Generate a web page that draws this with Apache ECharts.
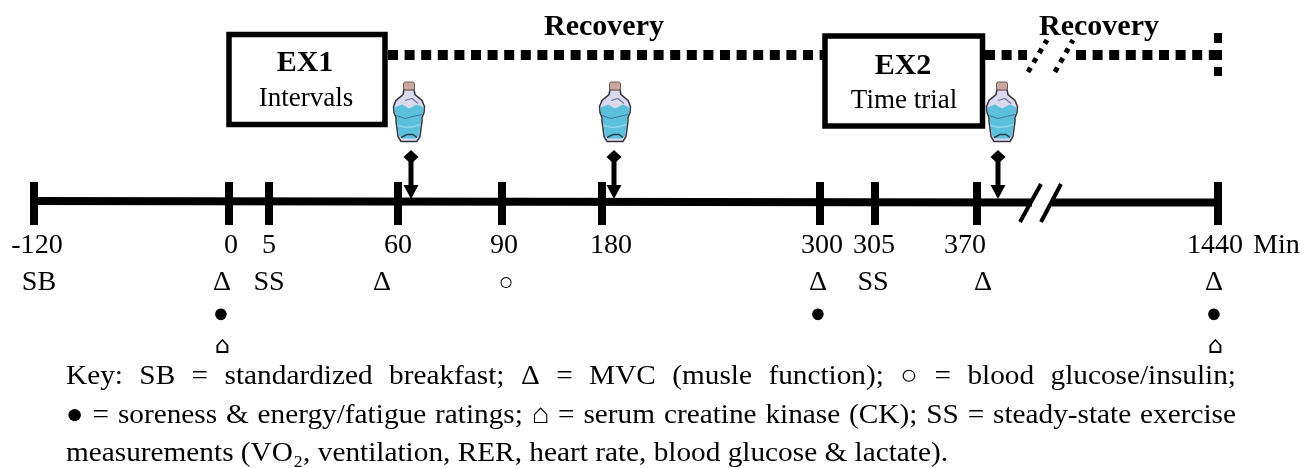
<!DOCTYPE html>
<html>
<head>
<meta charset="utf-8">
<style>
  html, body { margin: 0; padding: 0; background: #fff; }
  #main { width: 1305px; height: 468px; }
</style>
<script src="https://cdn.jsdelivr.net/npm/echarts@6/dist/echarts.min.js"></script>
</head>
<body>
<div id="main"></div>
<script>
// study timeline (minutes)
const minutes = [-120, 0, 5, 60, 90, 180, 300, 305, 370, 1440];
const timeUnit = 'Min';
const breakfast = [-120];
const mvc = [0, 60, 300, 370, 1440];
const steadyState = [5, 305];
const glucose = [90];
const ratings = [0, 300, 1440];
const creatine = [0, 1440];
const drinks = [60, 180, 370];
const exercises = [['EX1', 'Intervals'], ['EX2', 'Time trial']];
const recoveryLabel = 'Recovery';
const keyLines = [
  'Key: SB = standardized breakfast; Δ = MVC (musle function); ○ = blood glucose/insulin;',
  '● = soreness & energy/fatigue ratings; ⌂ = serum creatine kinase (CK); SS = steady-state exercise',
  'measurements (VO₂, ventilation, RER, heart rate, blood glucose & lactate).'
];

// the time axis of the schematic is not to scale, so each minute has its own place
const tickX = { '-120': 34, 0: 229, 5: 269, 60: 398, 90: 502, 180: 602, 300: 820, 305: 875, 370: 977, 1440: 1218 };
const labelX = { '-120': 37, 0: 231, 5: 269, 60: 398, 90: 504, 180: 611, 300: 822, 305: 874, 370: 965, 1440: 1215 };
const mvcX = { 0: 222, 60: 382, 300: 818, 370: 983, 1440: 1214 };
const dropX = { 0: 221, 300: 818, 1440: 1214 };
const drinkX = { 60: 409, 180: 615, 370: 1002 };
const arrowX = { 60: 411, 180: 614, 370: 998 };
const SX = 1.04; // reference is stretched sideways a little
const serif = '"Liberation Serif", "Times New Roman", serif';
const dash = [10, 6.6];

const texts = [];
function addText(x, y, text, size, opts) {
  const o = opts || {};
  texts.push({ x, y, text, size, weight: o.weight || 'normal', align: o.align || 'left', font: o.font || serif, sx: o.sx || SX });
}

minutes.forEach(m => addText(labelX[m], 244, String(m), 27, { align: 'center' }));
addText(1253, 244, timeUnit, 27);
breakfast.forEach(m => addText(39, 281, 'SB', 27, { align: 'center' }));
steadyState.forEach(m => addText(m === 5 ? 269 : 873, 281, 'SS', 27, { align: 'center' }));
mvc.forEach(m => addText(mvcX[m], 281, 'Δ', 27, { align: 'center' }));
glucose.forEach(m => addText(506, 282, '○', 25, { align: 'center', sx: 1 }));
ratings.forEach(m => addText(dropX[m], 313, '●', 27, { align: 'center', sx: 1 }));
creatine.forEach(m => addText(dropX[m] + 1, 345, '⌂', 24, { align: 'center', sx: 1, font: '"DejaVu Sans", sans-serif' }));

addText(305, 62, exercises[0][0], 30, { weight: 'bold', align: 'center', sx: 1 });
addText(306, 97, exercises[0][1], 27, { align: 'center', sx: 1 });
addText(903, 65, exercises[1][0], 30, { weight: 'bold', align: 'center', sx: 1 });
addText(904, 99, exercises[1][1], 27, { align: 'center', sx: 1 });
addText(604, 26, recoveryLabel, 30, { weight: 'bold', align: 'center', sx: 1 });
addText(1099, 26, recoveryLabel, 30, { weight: 'bold', align: 'center', sx: 1 });

// spread the words of the first two key lines out to the full text width
const measure = document.createElement('canvas').getContext('2d');
const KEY_SIZE = 28, KEY_SX = 1.046, KEY_LEFT = 66, KEY_RIGHT = 1236, KEY_Y = [375, 414, 452];
keyLines.forEach((line, i) => {
  if (i === 2) {
    addText(KEY_LEFT, KEY_Y[i], line, KEY_SIZE, { sx: KEY_SX });
    return;
  }
  measure.font = KEY_SIZE + 'px ' + serif;
  const words = line.split(' ');
  const widths = words.map(w => measure.measureText(w).width * KEY_SX);
  const total = widths.reduce((a, b) => a + b, 0);
  const gap = (KEY_RIGHT - KEY_LEFT - total) / (words.length - 1);
  let x = KEY_LEFT;
  words.forEach((w, j) => {
    addText(x, KEY_Y[i], w, KEY_SIZE, { sx: KEY_SX });
    x += widths[j] + gap;
  });
});

function lineSeries(points, width, type) {
  return {
    type: 'line', data: points, symbol: 'none', silent: true, animation: false,
    lineStyle: { color: '#000', width: width, type: type || 'solid', cap: 'butt' }
  };
}

const boxes = [[229, 34.5, 385, 124.5], [825, 36, 982.5, 126]];

function renderBox(params, api) {
  const b = boxes[params.dataIndex];
  const a = api.coord([b[0], b[1]]), c = api.coord([b[2], b[3]]);
  return {
    type: 'rect',
    shape: { x: a[0], y: a[1], width: c[0] - a[0], height: c[1] - a[1] },
    style: { fill: '#fff', stroke: '#000', lineWidth: 5.5 }
  };
}

function renderTick(params, api) {
  const x = tickX[minutes[params.dataIndex]];
  const a = api.coord([x, 182]), c = api.coord([x, 225]);
  return { type: 'line', shape: { x1: a[0], y1: a[1], x2: c[0], y2: c[1] }, style: { stroke: '#000', lineWidth: 8 } };
}

function renderArrow(params, api) {
  const p = api.coord([arrowX[drinks[params.dataIndex]], 150]);
  return {
    type: 'group', x: p[0], y: p[1],
    children: [
      { type: 'line', shape: { x1: 0, y1: 10, x2: 0, y2: 40 }, style: { stroke: '#000', lineWidth: 5 } },
      { type: 'polygon', shape: { points: [[0, 0], [7.5, 7], [0, 14], [-7.5, 7]] }, style: { fill: '#000' } },
      { type: 'polygon', shape: { points: [[-7.5, 35], [7.5, 35], [0, 49]] }, style: { fill: '#000' } }
    ]
  };
}

function renderBottle(params, api) {
  const p = api.coord([drinkX[drinks[params.dataIndex]], 112.5]);
  const outline = [[-5, -23], [-6, -18], [-13, -12], [-15.5, -6], [-15, 0], [-13, 5], [-13, 9], [-12, 16], [-11, 24], [-8, 29],
    [8, 29], [11, 24], [12, 16], [13, 9], [13, 5], [15, 0], [15.5, -6], [13, -12], [6, -18], [5, -23]];
  const water = [[-14.5, -5], [-7, -8], [0, -4], [8, -8], [14.5, -5], [14, 0], [12, 5], [12, 9], [11, 16], [10, 23], [7, 26],
    [-7, 26], [-10, 23], [-11, 16], [-12, 9], [-12, 5], [-14, 0]];
  return {
    type: 'group', x: p[0], y: p[1],
    children: [
      { type: 'polygon', shape: { points: outline }, style: { fill: '#dcd8ee', stroke: '#33333d', lineWidth: 1.5 } },
      { type: 'polygon', shape: { points: water }, style: { fill: '#5cc0dc' } },
      { type: 'polyline', shape: { points: [[-13, 3], [-4, 6], [4, 4], [13, 2]] }, style: { stroke: '#3a7f98', lineWidth: 1.2, fill: 'none' } },
      { type: 'polyline', shape: { points: [[-11, 13], [-3, 15], [5, 14], [11, 12]] }, style: { stroke: '#8ad6e8', lineWidth: 1.5, fill: 'none' } },
      { type: 'polyline', shape: { points: [[-8, 25], [-2, 22], [4, 22], [8, 25]] }, style: { stroke: '#23424f', lineWidth: 1.4, fill: 'none' } },
      { type: 'polyline', shape: { points: [[-4, -12], [3, -14], [9, -9]] }, style: { stroke: '#6d7a9a', lineWidth: 1.2, fill: 'none' } },
      { type: 'rect', shape: { x: -5.5, y: -30.5, width: 11, height: 8, r: 2 }, style: { fill: '#c9a89f', stroke: '#6a5a56', lineWidth: 1 } }
    ]
  };
}

function renderText(params, api) {
  const t = texts[params.dataIndex];
  const c = api.coord([t.x, t.y + 1.5]);
  return {
    type: 'text', x: c[0], y: c[1], scaleX: t.sx,
    style: {
      text: t.text, fill: '#000', align: t.align, verticalAlign: 'middle',
      font: t.weight + ' ' + t.size + 'px ' + t.font
    }
  };
}

function customSeries(render, count) {
  return {
    type: 'custom', renderItem: render, silent: true, animation: false, clip: false,
    coordinateSystem: 'cartesian2d',
    data: Array.from({ length: count }, () => [0, 0])
  };
}

const chart = echarts.init(document.getElementById('main'));
chart.setOption({
  backgroundColor: '#fff',
  animation: false,
  grid: { left: 0, right: 0, top: 0, bottom: 0 },
  xAxis: { type: 'value', min: 0, max: 1305, show: false },
  yAxis: { type: 'value', min: 0, max: 468, inverse: true, show: false },
  series: [
    // recovery dots, the second run has a break in it
    lineSeries([[388, 55], [823, 55]], 10, dash),
    lineSeries([[985, 55], [1027, 55]], 10, dash),
    lineSeries([[1076, 55], [1222, 55]], 10, dash),
    lineSeries([[1218, 33], [1218, 76]], 8, [10, 7]),
    lineSeries([[1028, 72], [1047, 40]], 5, [5, 6]),
    lineSeries([[1055, 72], [1073, 40]], 5, [5, 6]),
    customSeries(renderBox, boxes.length),
    // timeline with its break
    lineSeries([[34, 201], [1032, 202.5]], 8),
    lineSeries([[1052, 202.5], [1218, 202.5]], 8),
    lineSeries([[1020, 222], [1041, 184]], 4),
    lineSeries([[1041, 222], [1061, 184]], 4),
    customSeries(renderTick, minutes.length),
    customSeries(renderArrow, drinks.length),
    customSeries(renderBottle, drinks.length),
    customSeries(renderText, texts.length)
  ]
});
</script>
</body>
</html>
